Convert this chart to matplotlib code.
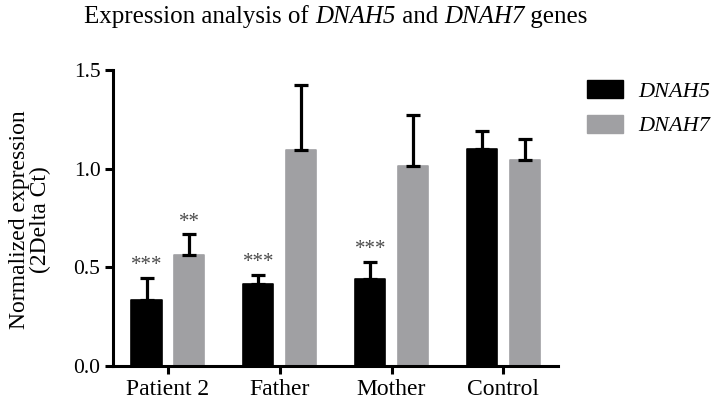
import numpy as np
import matplotlib
matplotlib.use('Agg')
import matplotlib.pyplot as plt
from matplotlib.patches import Patch

plt.rcParams['font.family'] = 'Liberation Serif'

# values
groups = ['Patient 2', 'Father', 'Mother', 'Control']
dnah5 = [0.335, 0.415, 0.443, 1.10]
dnah5_err = [0.113, 0.047, 0.086, 0.09]
dnah7 = [0.563, 1.096, 1.012, 1.042]
dnah7_err = [0.105, 0.33, 0.259, 0.109]
dnah5_stars = ['***', '***', '***', '']
dnah7_stars = ['**', '', '', '']

black = '#000000'
gray = '#a0a0a3'

fig = plt.figure(figsize=(7.24, 4.09), dpi=100)
ax = fig.add_axes([0.156, 0.105, 0.615, 0.724])

x = np.arange(len(groups))
w = 0.27
off = 0.19

for xs, vals, errs, stars, color in [(x - off, dnah5, dnah5_err, dnah5_stars, black),
                                     (x + off, dnah7, dnah7_err, dnah7_stars, gray)]:
    ax.bar(xs, vals, width=w, color=color, edgecolor=color, linewidth=1.2,
           joinstyle='round', zorder=2)
    ax.errorbar(xs, vals, yerr=[np.zeros(len(vals)), errs], fmt='none',
                ecolor='black', elinewidth=2.3, capsize=4.8, capthick=2.3, zorder=3)
    for xi, v, e, s in zip(xs, vals, errs, stars):
        if s:
            ax.text(xi, v + e + 0.012, s, ha='center', va='bottom',
                    fontsize=15, color='#4a4a4a')

ax.set_xlim(-0.49, 3.49)
ax.set_ylim(0, 1.5)
ax.set_yticks([0.0, 0.5, 1.0, 1.5])
ax.set_yticklabels(['0.0', '0.5', '1.0', '1.5'])
ax.set_xticks(x)
ax.set_xticklabels(groups)
ax.tick_params(axis='both', direction='out', length=6, width=2.2, pad=3)
ax.tick_params(axis='y', labelsize=15.5)
ax.tick_params(axis='x', labelsize=17)

for side in ['top', 'right']:
    ax.spines[side].set_visible(False)
for side in ['left', 'bottom']:
    ax.spines[side].set_linewidth(2.2)

# y label placed directly in figure pixels
fig.text(30 / 724, 1 - 220 / 409, 'Normalized expression\n(2Delta Ct)', fontsize=17,
         rotation=90, ha='center', va='center', multialignment='center',
         linespacing=0.95)

# title built from pieces so the gene names are italic (digits too)
pieces = [('Expression analysis of ', 'normal'), ('DNAH5', 'italic'),
          (' and ', 'normal'), ('DNAH7', 'italic'), (' genes', 'normal')]
renderer = fig.canvas.get_renderer()
texts = [fig.text(0, 1 - 23 / 409, s, style=st, fontsize=18, va='baseline')
         for s, st in pieces]
widths = [t.get_window_extent(renderer).width for t in texts]
xpos = 336 - sum(widths) / 2
for t, wd in zip(texts, widths):
    t.set_x(xpos / 724)
    xpos += wd

handles = [Patch(facecolor=black, edgecolor=black), Patch(facecolor=gray, edgecolor=gray)]
fig.legend(handles, ['DNAH5', 'DNAH7'], loc='upper left',
           bbox_to_anchor=(587 / 724, 1 - 80 / 409), frameon=False,
           prop={'style': 'italic', 'size': 16}, handlelength=1.6,
           handleheight=0.85, handletextpad=0.7, labelspacing=0.6,
           borderpad=0, borderaxespad=0)

fig.savefig('out.png', dpi=100)
